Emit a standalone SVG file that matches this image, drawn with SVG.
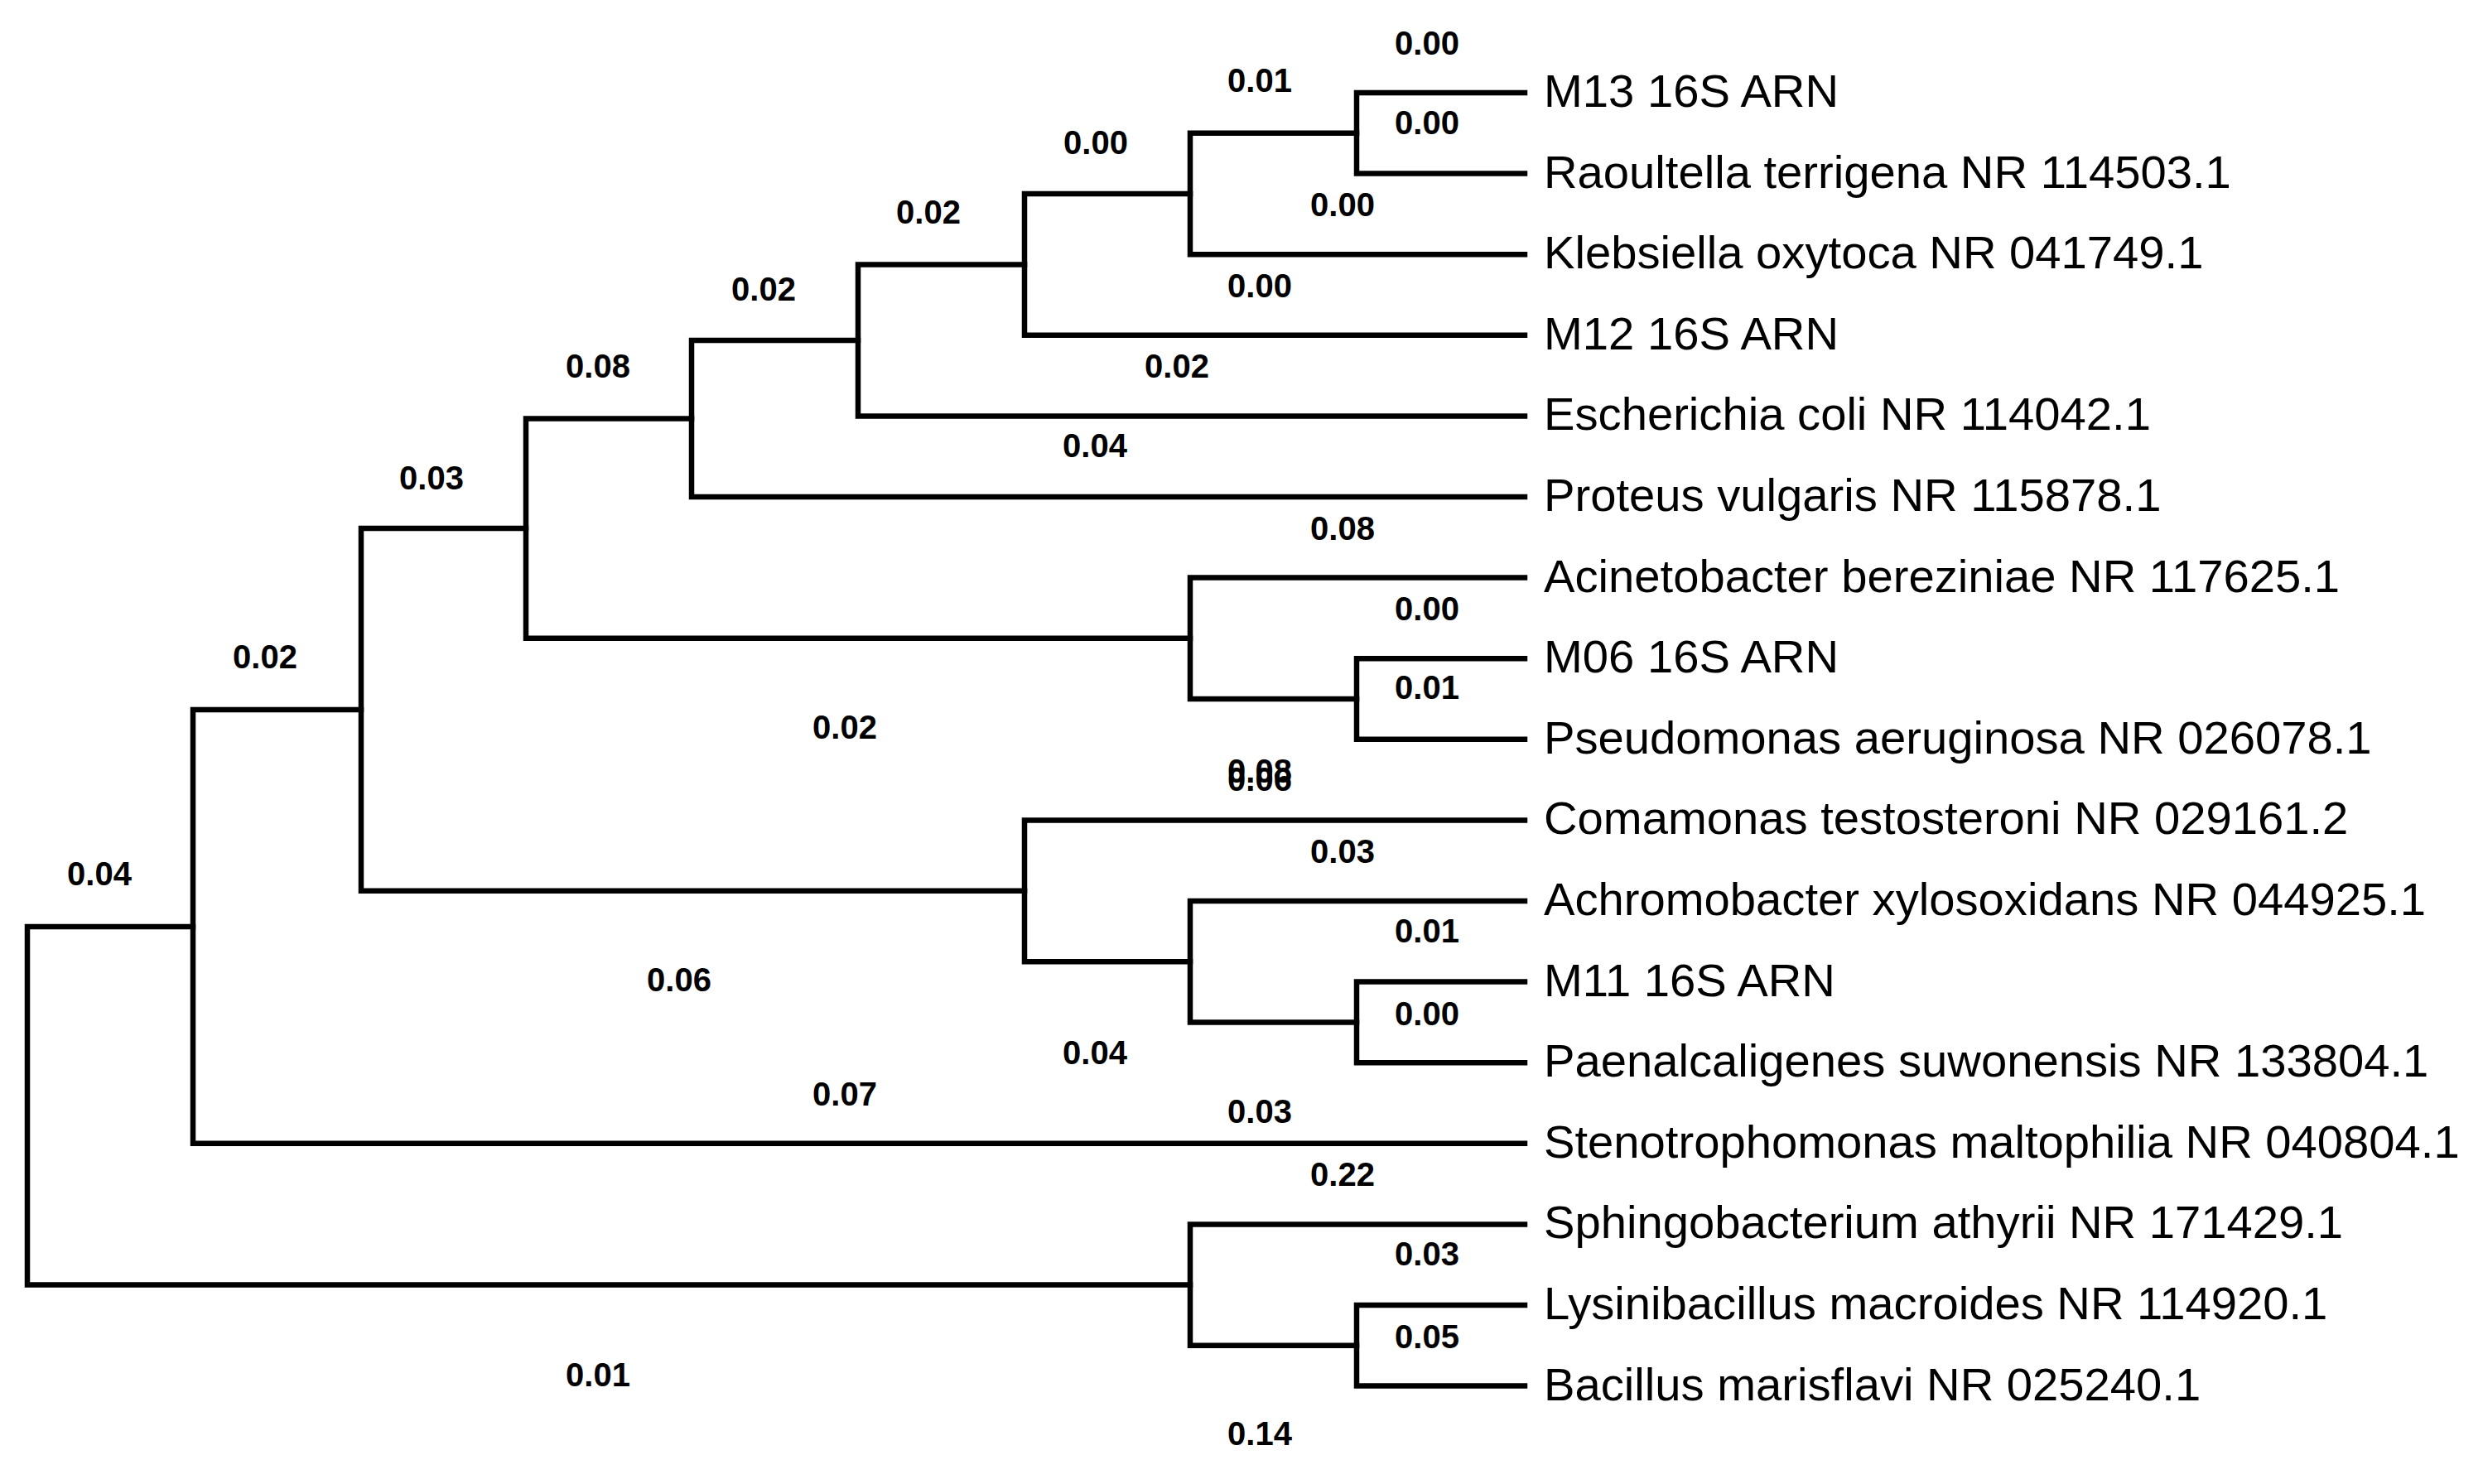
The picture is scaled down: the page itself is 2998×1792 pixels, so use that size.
<svg xmlns="http://www.w3.org/2000/svg" width="2998" height="1792" viewBox="0 0 2998 1792">
<style>
.br{fill:none;stroke:#000;stroke-width:6.5;stroke-linejoin:miter;stroke-linecap:square}
.leaf{font-family:"Liberation Sans",Arial,sans-serif;font-size:56.2px;fill:#000}
.bl{font-family:"Liberation Sans",Arial,sans-serif;font-size:40px;font-weight:bold;fill:#000;text-anchor:middle}
</style>
<rect width="2998" height="1792" fill="#fff"/>
<g id="connectors">
<path class="br" d="M1841,112 H1638 V209.6 H1841"/>
<path class="br" d="M1638,160.8 H1437 V307.2 H1841"/>
<path class="br" d="M1437,234 H1237 V404.8 H1841"/>
<path class="br" d="M1237,319.4 H1036 V502.4 H1841"/>
<path class="br" d="M1036,410.9 H835 V600 H1841"/>
<path class="br" d="M835,505.45 H635 V770.8 H1437"/>
<path class="br" d="M1841,697.6 H1437 V844 H1638"/>
<path class="br" d="M1841,795.2 H1638 V892.8 H1841"/>
<path class="br" d="M635,638.1 H436 V1075.8 H1237"/>
<path class="br" d="M1841,990.4 H1237 V1161.2 H1437"/>
<path class="br" d="M1841,1088 H1437 V1234.4 H1638"/>
<path class="br" d="M1841,1185.6 H1638 V1283.2 H1841"/>
<path class="br" d="M436,857 H233 V1380.8 H1841"/>
<path class="br" d="M233,1118.9 H33 V1551.6 H1437"/>
<path class="br" d="M1841,1478.4 H1437 V1624.8 H1638"/>
<path class="br" d="M1841,1576 H1638 V1673.6 H1841"/>
</g>
<g id="leaves">
<g id="leaf-m13"><text class="leaf" x="1864" y="129">M13 16S ARN</text></g>
<g id="leaf-raoultella"><text class="leaf" x="1864" y="226.6">Raoultella terrigena NR 114503.1</text></g>
<g id="leaf-klebsiella"><text class="leaf" x="1864" y="324.2">Klebsiella oxytoca NR 041749.1</text></g>
<g id="leaf-m12"><text class="leaf" x="1864" y="421.8">M12 16S ARN</text></g>
<g id="leaf-ecoli"><text class="leaf" x="1864" y="519.4">Escherichia coli NR 114042.1</text></g>
<g id="leaf-proteus"><text class="leaf" x="1864" y="617">Proteus vulgaris NR 115878.1</text></g>
<g id="leaf-acinetobacter"><text class="leaf" x="1864" y="714.6">Acinetobacter bereziniae NR 117625.1</text></g>
<g id="leaf-m06"><text class="leaf" x="1864" y="812.2">M06 16S ARN</text></g>
<g id="leaf-pseudomonas"><text class="leaf" x="1864" y="909.8">Pseudomonas aeruginosa NR 026078.1</text></g>
<g id="leaf-comamonas"><text class="leaf" x="1864" y="1007.4">Comamonas testosteroni NR 029161.2</text></g>
<g id="leaf-achromobacter"><text class="leaf" x="1864" y="1105">Achromobacter xylosoxidans NR 044925.1</text></g>
<g id="leaf-m11"><text class="leaf" x="1864" y="1202.6">M11 16S ARN</text></g>
<g id="leaf-paenalcaligenes"><text class="leaf" x="1864" y="1300.2">Paenalcaligenes suwonensis NR 133804.1</text></g>
<g id="leaf-stenotrophomonas"><text class="leaf" x="1864" y="1397.8">Stenotrophomonas maltophilia NR 040804.1</text></g>
<g id="leaf-sphingobacterium"><text class="leaf" x="1864" y="1495.4">Sphingobacterium athyrii NR 171429.1</text></g>
<g id="leaf-lysinibacillus"><text class="leaf" x="1864" y="1593">Lysinibacillus macroides NR 114920.1</text></g>
<g id="leaf-bacillus"><text class="leaf" x="1864" y="1690.6">Bacillus marisflavi NR 025240.1</text></g>
</g>
<g id="branch-lengths">
<text class="bl" x="1723" y="66">0.00</text>
<text class="bl" x="1521" y="111">0.01</text>
<text class="bl" x="1723" y="162">0.00</text>
<text class="bl" x="1323" y="186">0.00</text>
<text class="bl" x="1621" y="261">0.00</text>
<text class="bl" x="1121" y="270">0.02</text>
<text class="bl" x="1521" y="359">0.00</text>
<text class="bl" x="922" y="363">0.02</text>
<text class="bl" x="722" y="456">0.08</text>
<text class="bl" x="1421" y="456">0.02</text>
<text class="bl" x="1322" y="552">0.04</text>
<text class="bl" x="521" y="591">0.03</text>
<text class="bl" x="1621" y="652">0.08</text>
<text class="bl" x="1723" y="749">0.00</text>
<text class="bl" x="320" y="807">0.02</text>
<text class="bl" x="1723" y="844">0.01</text>
<text class="bl" x="1020" y="892">0.02</text>
<text class="bl" x="1521" y="945">0.08</text>
<text class="bl" x="1521" y="955">0.06</text>
<text class="bl" x="1621" y="1042">0.03</text>
<text class="bl" x="120" y="1069">0.04</text>
<text class="bl" x="1723" y="1138">0.01</text>
<text class="bl" x="820" y="1197">0.06</text>
<text class="bl" x="1723" y="1238">0.00</text>
<text class="bl" x="1322" y="1285">0.04</text>
<text class="bl" x="1020" y="1335">0.07</text>
<text class="bl" x="1521" y="1356">0.03</text>
<text class="bl" x="1621" y="1432">0.22</text>
<text class="bl" x="1723" y="1528">0.03</text>
<text class="bl" x="1723" y="1628">0.05</text>
<text class="bl" x="722" y="1674">0.01</text>
<text class="bl" x="1521" y="1745">0.14</text>
</g>
</svg>
